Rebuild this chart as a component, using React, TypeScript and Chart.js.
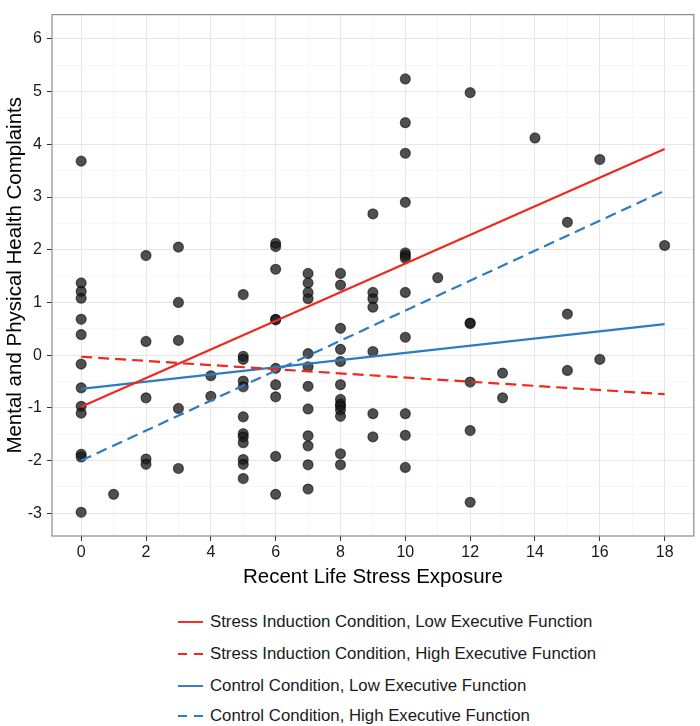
import React, { useEffect, useRef } from 'react';
import { Chart, registerables } from 'chart.js';

Chart.register(...registerables);

// ---- Data ----
const stressExposure: number[] = [
  0, 0, 0, 0, 0, 0, 0, 0, 0, 0, 0, 0, 0,
  1,
  2, 2, 2, 2, 2,
  3, 3, 3, 3, 3,
  4, 4,
  5, 5, 5, 5, 5, 5, 5, 5, 5, 5, 5, 5,
  6, 6, 6, 6, 6, 6, 6, 6, 6, 6,
  7, 7, 7, 7, 7, 7, 7, 7, 7, 7, 7, 7,
  8, 8, 8, 8, 8, 8, 8, 8, 8, 8, 8, 8, 8,
  9, 9, 9, 9, 9, 9, 9,
  10, 10, 10, 10, 10, 10, 10, 10, 10, 10, 10, 10,
  11,
  12, 12, 12, 12, 12, 12,
  13, 13,
  14,
  15, 15, 15,
  16, 16,
  18,
];

const complaints: number[] = [
  3.68, 1.37, 1.21, 1.08, 0.68, 0.39, -0.17, -0.62, -0.97, -1.1, -1.88, -1.93, -2.98,
  -2.64,
  1.89, 0.26, -0.81, -1.97, -2.07,
  2.05, 1.0, 0.28, -1.01, -2.15,
  -0.39, -0.78,
  1.15, -0.02, -0.08, -0.49, -0.6, -1.17, -1.49, -1.55, -1.66, -1.98, -2.07, -2.34,
  2.12, 2.06, 1.63, 0.68, 0.67, -0.25, -0.56, -0.79, -1.92, -2.64,
  1.55, 1.37, 1.19, 1.07, 0.03, -0.22, -0.59, -1.02, -1.53, -1.72, -2.08, -2.54,
  1.55, 1.33, 0.51, 0.11, -0.12, -0.56, -0.84, -0.93, -0.97, -1.04, -1.16, -1.87, -2.08,
  2.68, 1.19, 1.07, 0.91, 0.07, -1.11, -1.55,
  5.24, 4.41, 3.83, 2.9, 1.94, 1.89, 1.84, 1.19, 0.34, -1.11, -1.52, -2.13,
  1.47,
  4.98, 0.61, 0.6, -0.51, -1.43, -2.79,
  -0.34, -0.81,
  4.12,
  2.52, 0.78, -0.29,
  3.71, -0.08,
  2.08,
];

const lineLabels: string[] = [
  'Stress Induction Condition, Low Executive Function',
  'Stress Induction Condition, High Executive Function',
  'Control Condition, Low Executive Function',
  'Control Condition, High Executive Function',
];
const lineX: number[] = [0, 18];
const lineStartY: number[] = [-0.98, -0.03, -0.64, -2.0];
const lineEndY: number[] = [3.91, -0.74, 0.59, 3.12];
const lineColors: string[] = ['#F0281E', '#F0281E', '#2D7CC1', '#2D7CC1'];
const lineDashed: boolean[] = [false, true, false, true];

const xTickLabels: number[] = [0, 2, 4, 6, 8, 10, 12, 14, 16, 18];
const yTickLabels: number[] = [-3, -2, -1, 0, 1, 2, 3, 4, 5, 6];

const FONT = '"Liberation Sans", Arial, Helvetica, sans-serif';

export default function App() {
  const canvasRef = useRef<HTMLCanvasElement>(null);

  useEffect(() => {
    document.body.style.margin = '0';
    const canvas = canvasRef.current;
    if (!canvas) return;

    const isMajorX = (v: number) => xTickLabels.some((t) => Math.abs(t - v) < 1e-6);
    const isMajorY = (v: number) => yTickLabels.some((t) => Math.abs(t - v) < 1e-6);

    const panelBorder = {
      id: 'panelBorder',
      afterDraw(chart: any) {
        const { ctx, chartArea } = chart;
        ctx.save();
        ctx.strokeStyle = '#8a8a8a';
        ctx.lineWidth = 1.2;
        ctx.strokeRect(chartArea.left, chartArea.top, chartArea.right - chartArea.left, chartArea.bottom - chartArea.top);
        ctx.restore();
      },
    };

    const lineDatasets = lineLabels.map((label, i) => ({
      type: 'scatter' as const,
      label,
      data: lineX.map((x, j) => ({ x, y: j === 0 ? lineStartY[i] : lineEndY[i] })),
      showLine: true,
      borderColor: lineColors[i],
      backgroundColor: lineColors[i],
      borderWidth: 2.2,
      borderDash: lineDashed[i] ? [11, 6] : [],
      pointRadius: 0,
      pointHoverRadius: 0,
      order: 0,
    }));

    const chart = new Chart(canvas, {
      type: 'scatter',
      data: {
        datasets: [
          {
            label: 'Participants',
            data: stressExposure.map((x, i) => ({ x, y: complaints[i] })),
            backgroundColor: 'rgba(25,25,25,0.76)',
            borderColor: 'rgba(0,0,0,0.55)',
            borderWidth: 1.2,
            pointRadius: 5,
            order: 10,
          },
          ...lineDatasets,
        ] as any,
      },
      options: {
        animation: false,
        responsive: true,
        maintainAspectRatio: false,
        layout: { padding: { top: 3, right: 3, left: 0, bottom: 0 } },
        plugins: {
          legend: { display: false },
          tooltip: { enabled: false },
        },
        scales: {
          x: {
            type: 'linear',
            min: -0.9,
            max: 18.9,
            afterFit: (scale: any) => {
              scale.height = 56;
            },
            border: { display: false },
            grid: {
              color: (ctx: any) => (isMajorX(ctx.tick.value) ? '#e6e6e6' : '#f3f3f3'),
              tickColor: (ctx: any) => (isMajorX(ctx.tick.value) ? '#333333' : 'rgba(0,0,0,0)'),
              lineWidth: (ctx: any) => (isMajorX(ctx.tick.value) ? 1 : 0.7),
              tickLength: 5,
              drawTicks: true,
            },
            ticks: {
              stepSize: 1,
              includeBounds: false,
              autoSkip: false,
              maxRotation: 0,
              padding: 2,
              color: '#1a1a1a',
              font: { family: FONT, size: 16 },
              callback: (v: any) => (isMajorX(Number(v)) ? String(Math.round(Number(v))) : ''),
            },
            title: {
              display: true,
              text: 'Recent Life Stress Exposure',
              color: '#000',
              font: { family: FONT, size: 20.5 },
              padding: { top: 0, bottom: 2 },
            },
          },
          y: {
            type: 'linear',
            min: -3.43,
            max: 6.46,
            afterFit: (scale: any) => {
              scale.width = 52;
            },
            border: { display: false },
            grid: {
              color: (ctx: any) => (isMajorY(ctx.tick.value) ? '#e6e6e6' : '#f3f3f3'),
              tickColor: (ctx: any) => (isMajorY(ctx.tick.value) ? '#333333' : 'rgba(0,0,0,0)'),
              lineWidth: (ctx: any) => (isMajorY(ctx.tick.value) ? 1 : 0.7),
              tickLength: 5,
              drawTicks: true,
            },
            ticks: {
              stepSize: 0.5,
              includeBounds: false,
              autoSkip: false,
              padding: 5,
              color: '#1a1a1a',
              font: { family: FONT, size: 16 },
              callback: (v: any) => (isMajorY(Number(v)) ? String(Math.round(Number(v))) : ''),
            },
            title: {
              display: true,
              text: 'Mental and Physical Health Complaints',
              color: '#000',
              font: { family: FONT, size: 20.5 },
              padding: { top: 3, bottom: 0 },
            },
          },
        },
      } as any,
      plugins: [panelBorder],
    });

    return () => {
      chart.destroy();
    };
  }, []);

  const rowCenters = [622, 654, 686, 716];

  return (
    <div style={{ position: 'relative', width: 700, height: 726, background: '#fff', fontFamily: FONT }}>
      <div style={{ position: 'absolute', left: 0, top: 0, width: 700, height: 592 }}>
        <canvas ref={canvasRef} />
      </div>
      {lineLabels.map((label, i) => (
        <div
          key={label}
          style={{
            position: 'absolute',
            left: 178,
            top: rowCenters[i] - 10,
            height: 20,
            display: 'flex',
            alignItems: 'center',
            whiteSpace: 'nowrap',
          }}
        >
          <svg width={25} height={20} style={{ display: 'block' }}>
            <line
              x1={0}
              y1={10}
              x2={25}
              y2={10}
              stroke={lineColors[i]}
              strokeWidth={1.9}
              strokeDasharray={lineDashed[i] ? '9 7' : undefined}
            />
          </svg>
          <span style={{ marginLeft: 7, fontSize: 16.8, color: '#1a1a1a', lineHeight: '20px' }}>{label}</span>
        </div>
      ))}
    </div>
  );
}
